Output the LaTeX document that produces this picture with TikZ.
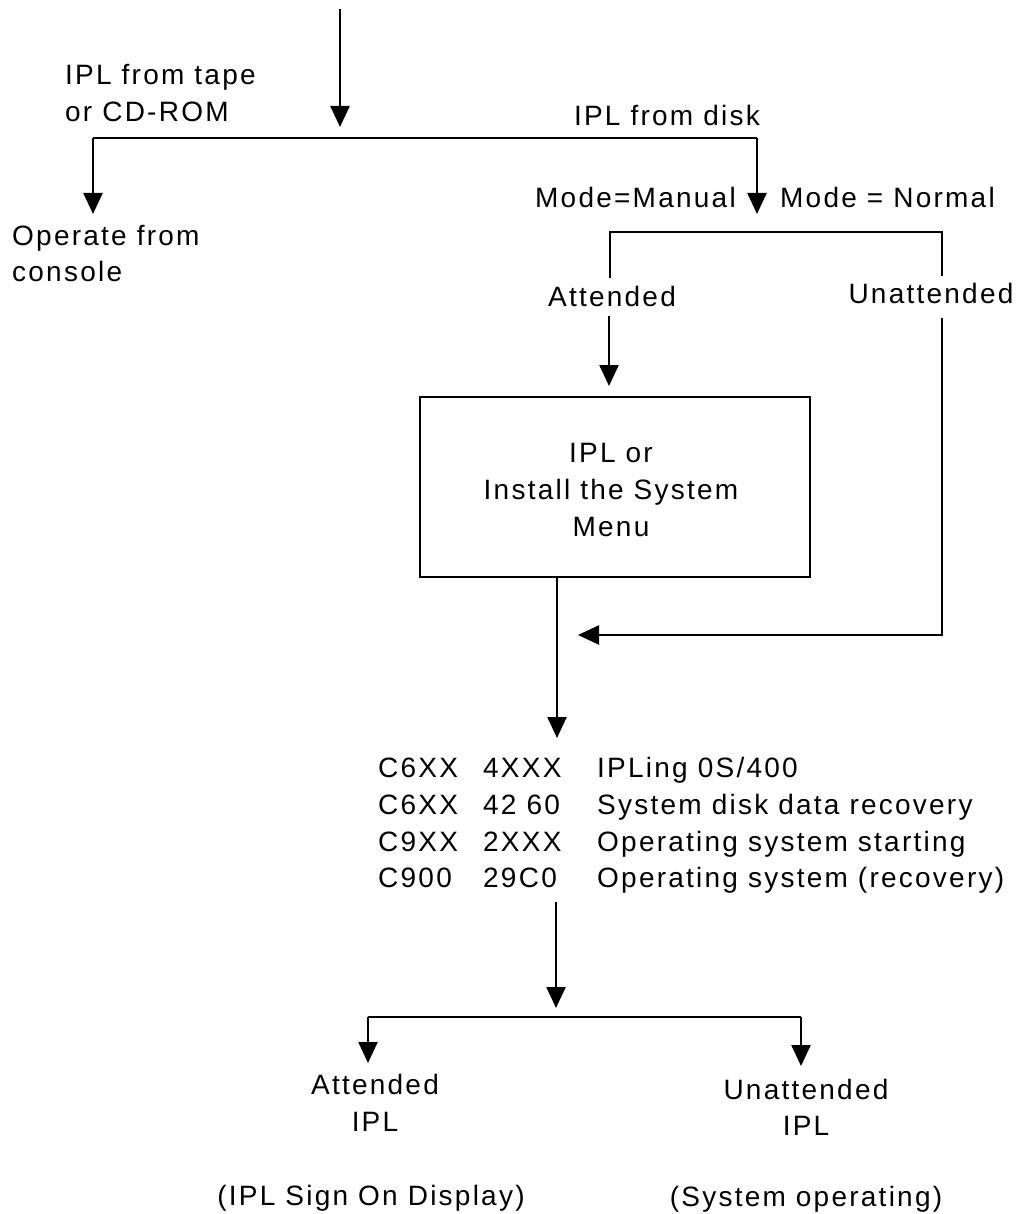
\documentclass[tikz,border=0pt]{standalone}
\usepackage{fontspec}
\setmainfont{Liberation Sans}[LetterSpace=8]
\usetikzlibrary{arrows.meta}
\begin{document}
\begin{tikzpicture}[x=1pt,y=-1pt,
  line/.style={line width=2.5pt},
  arr/.style={line width=2.5pt,-{Triangle[width=19pt,length=21pt]}},
  lbl/.style={inner sep=0pt,font=\fontsize{28}{37}\selectfont},
  box/.style={draw,line width=2.5pt,minimum width=390pt,minimum height=180pt,inner sep=0pt}]
\useasboundingbox (0,0) rectangle (1021,1214);
% top
\coordinate (s0) at (340,9);
\coordinate (s0e) at (340,127);
\coordinate (hl) at (93,138);
\coordinate (hr) at (757,138);
\coordinate (hle) at (93,214);
\coordinate (hre) at (757,214);
\node[lbl,anchor=base west] (tape1) at (65,85) {IPL from tape};
\node[lbl,anchor=base west] (tape2) at (65,122) {or CD-ROM};
\node[lbl,anchor=base east] (disk) at (760,126) {IPL from disk};
\node[lbl,anchor=base east] (manual) at (736,208) {Mode=Manual};
\node[lbl,anchor=base west] (normal) at (780,208) {Mode = Normal};
\node[lbl,anchor=base west] (op1) at (12,246) {Operate from};
\node[lbl,anchor=base west] (op2) at (12,282) {console};
\draw[arr] (s0) -- (s0e);
\draw[line] (hl) -- (hr);
\draw[arr] (hl) -- (hle);
\draw[arr] (hr) -- (hre);
% bracket
\coordinate (bl) at (610,278);
\coordinate (blt) at (610,232);
\coordinate (brt) at (942,232);
\coordinate (br) at (942,276);
\draw[line] (bl) -- (blt) -- (brt) -- (br);
\node[lbl,anchor=base] (att) at (612,306) {Attended};
\node[lbl,anchor=base] (unatt) at (931,304) {Unattended};
\coordinate (a1) at (609,316);
\coordinate (a1e) at (609,386);
\draw[arr] (a1) -- (a1e);
% box
\node[box] (menu) at (615,487) {};
\node[lbl,anchor=base] (m1) at (611,462) {IPL or};
\node[lbl,anchor=base] (m2) at (611,499) {Install the System};
\node[lbl,anchor=base] (m3) at (611,536) {Menu};
\coordinate (d1e) at (557,738);
\draw[arr] (menu.south -| d1e) -- (d1e);
\coordinate (u1) at (942,318);
\coordinate (u2) at (942,635);
\coordinate (u3) at (578,635);
\draw[arr] (u1) -- (u2) -- (u3);
% codes
\node[lbl,anchor=base west] (c11) at (378,777) {C6XX};
\node[lbl,anchor=base west] (c12) at (483,777) {4XXX};
\node[lbl,anchor=base west] (c13) at (597,777) {IPLing 0S/400};
\node[lbl,anchor=base west] (c21) at (378,814) {C6XX};
\node[lbl,anchor=base west] (c22) at (483,814) {42 60};
\node[lbl,anchor=base west] (c23) at (597,814) {System disk data recovery};
\node[lbl,anchor=base west] (c31) at (378,851) {C9XX};
\node[lbl,anchor=base west] (c32) at (483,851) {2XXX};
\node[lbl,anchor=base west] (c33) at (597,851) {Operating system starting};
\node[lbl,anchor=base west] (c41) at (378,887) {C900};
\node[lbl,anchor=base west] (c42) at (483,887) {29C0};
\node[lbl,anchor=base west] (c43) at (597,887) {Operating system (recovery)};
\coordinate (d2) at (556,902);
\coordinate (d2e) at (556,1008);
\draw[arr] (d2) -- (d2e);
\coordinate (gl) at (368,1017);
\coordinate (gr) at (801,1017);
\coordinate (gle) at (368,1063);
\coordinate (gre) at (801,1066);
\draw[line] (gl) -- (gr);
\draw[arr] (gl) -- (gle);
\draw[arr] (gr) -- (gre);
\node[lbl,anchor=base] (ai1) at (375,1094) {Attended};
\node[lbl,anchor=base] (ai2) at (375,1131) {IPL};
\node[lbl,anchor=base] (ui1) at (806,1099) {Unattended};
\node[lbl,anchor=base] (ui2) at (806,1135) {IPL};
\node[lbl,anchor=base] (ai3) at (371,1205) {(IPL Sign On Display)};
\node[lbl,anchor=base] (ui3) at (806,1206) {(System operating)};
\end{tikzpicture}
\end{document}
